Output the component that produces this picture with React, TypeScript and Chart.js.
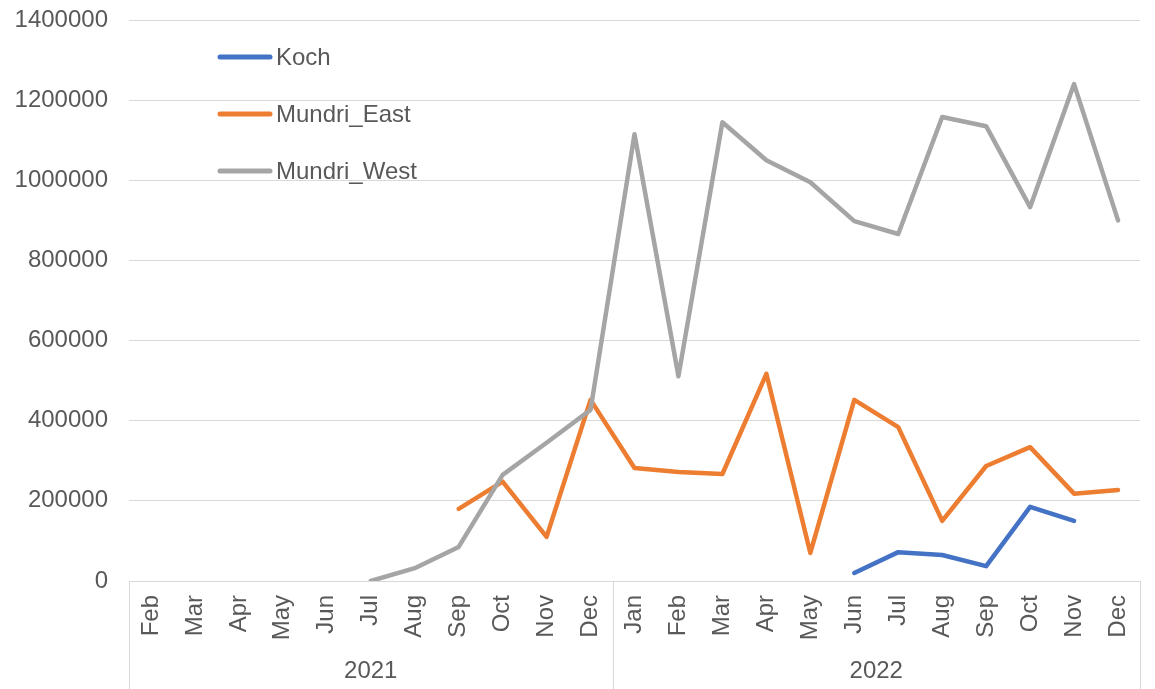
import React, { useEffect, useRef } from "react";
import { Chart, registerables } from "chart.js";

Chart.register(...registerables);

const months = [
  "Feb", "Mar", "Apr", "May", "Jun", "Jul", "Aug", "Sep", "Oct", "Nov", "Dec",
  "Jan", "Feb", "Mar", "Apr", "May", "Jun", "Jul", "Aug", "Sep", "Oct", "Nov", "Dec",
];
const years = ["2021", "2022"];
const yearSpans = [11, 12];

const koch = [
  null, null, null, null, null, null, null, null, null, null, null,
  null, null, null, null, null, 20000, 72000, 65000, 37000, 185000, 150000, null,
];
const mundriEast = [
  null, null, null, null, null, null, null, 180000, 248000, 110000, 452000,
  282000, 272000, 267000, 517000, 70000, 452000, 384000, 150000, 287000, 334000, 218000, 227000,
];
const mundriWest = [
  null, null, null, null, null, 0, 32000, 85000, 265000, 345000, 427000,
  1115000, 511000, 1145000, 1050000, 995000, 898000, 866000, 1158000, 1135000, 933000, 1240000, 900000,
];

const FONT = "'Liberation Sans', Arial, sans-serif";
const TEXT = "#595959";
const GRID = "#d9d9d9";

const groupPlugin = {
  id: "groupAxis",
  afterDraw(chart: any) {
    const { ctx, chartArea, scales } = chart;
    const x = scales.x;
    const h = chart.height;
    ctx.save();
    const bounds: number[] = [chartArea.left];
    let idx = 0;
    for (let g = 0; g < yearSpans.length; g++) {
      idx += yearSpans[g];
      if (idx < months.length) {
        bounds.push((x.getPixelForValue(idx - 1) + x.getPixelForValue(idx)) / 2);
      } else {
        bounds.push(chartArea.right);
      }
    }
    ctx.strokeStyle = GRID;
    ctx.lineWidth = 1;
    for (const b of bounds) {
      const bx = Math.round(b) + 0.5;
      ctx.beginPath();
      ctx.moveTo(bx, chartArea.bottom);
      ctx.lineTo(bx, h);
      ctx.stroke();
    }
    ctx.fillStyle = TEXT;
    ctx.font = `24px ${FONT}`;
    ctx.textAlign = "center";
    ctx.textBaseline = "middle";
    for (let g = 0; g < years.length; g++) {
      ctx.fillText(years[g], (bounds[g] + bounds[g + 1]) / 2, chartArea.bottom + 90);
    }
    chart.data.datasets.forEach((ds: any, i: number) => {
      const ly = 57 + i * 57;
      ctx.strokeStyle = ds.borderColor;
      ctx.lineWidth = 5;
      ctx.lineCap = "round";
      ctx.beginPath();
      ctx.moveTo(220, ly);
      ctx.lineTo(270, ly);
      ctx.stroke();
      ctx.fillStyle = TEXT;
      ctx.textAlign = "left";
      ctx.fillText(ds.label, 276, ly + 1);
    });
    ctx.restore();
  },
};

function zeroPad(scale: any) {
  scale.paddingTop = 0;
  scale.paddingBottom = 0;
  scale.paddingLeft = 0;
  scale.paddingRight = 0;
}

export default function App() {
  const ref = useRef<HTMLCanvasElement>(null);
  useEffect(() => {
    if (!ref.current) return;
    const common = {
      borderWidth: 4.5,
      pointRadius: 0,
      pointHoverRadius: 0,
      borderJoinStyle: "round" as const,
      borderCapStyle: "round" as const,
      tension: 0,
      spanGaps: false,
    };
    const chart = new Chart(ref.current, {
      type: "line",
      data: {
        labels: months,
        datasets: [
          { label: "Koch", data: koch, borderColor: "#4472C4", backgroundColor: "#4472C4", order: 2, ...common },
          { label: "Mundri_East", data: mundriEast, borderColor: "#ED7D31", backgroundColor: "#ED7D31", order: 1, ...common },
          { label: "Mundri_West", data: mundriWest, borderColor: "#A5A5A5", backgroundColor: "#A5A5A5", order: 0, ...common },
        ],
      },
      options: {
        animation: false,
        responsive: true,
        maintainAspectRatio: false,
        layout: { padding: { top: 20, right: 15, left: 0, bottom: 0 } },
        plugins: { legend: { display: false }, tooltip: { enabled: false } },
        scales: {
          x: {
            type: "category",
            offset: true,
            grid: { display: false, drawTicks: false },
            border: { display: true, color: GRID },
            ticks: {
              minRotation: 90,
              maxRotation: 90,
              autoSkip: false,
              padding: 14,
              color: TEXT,
              font: { family: FONT, size: 24 },
            },
            afterFit(scale: any) {
              scale.height = 108;
              zeroPad(scale);
            },
          },
          y: {
            min: 0,
            max: 1400000,
            grid: { color: GRID, lineWidth: 1, drawTicks: false },
            border: { display: false },
            ticks: {
              stepSize: 200000,
              padding: 21,
              color: TEXT,
              font: { family: FONT, size: 24 },
              callback: (v: any) => String(v),
            },
            afterFit(scale: any) {
              scale.width = 129;
              zeroPad(scale);
            },
          },
        },
      },
      plugins: [groupPlugin],
    });
    return () => chart.destroy();
  }, []);
  return (
    <div style={{ position: "fixed", left: 0, top: 0, width: 1155, height: 689, background: "#fff" }}>
      <canvas ref={ref} />
    </div>
  );
}
